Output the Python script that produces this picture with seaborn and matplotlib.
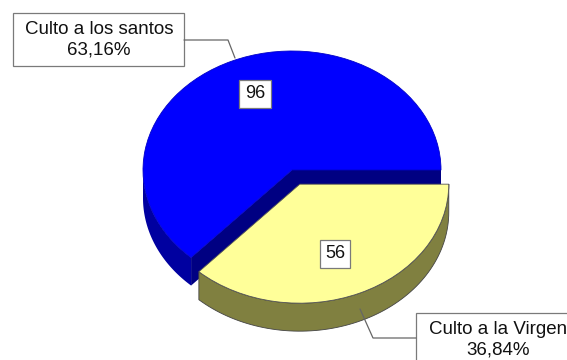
import numpy as np
import matplotlib
matplotlib.use("Agg")
import matplotlib.pyplot as plt
from matplotlib.patches import Polygon, Rectangle
import seaborn as sns

# ---- data ----
categories = ["Culto a los santos", "Culto a la Virgen"]
values = [96, 56]
explode = [0.0, 0.13]
top_colors = ["#0000FF", "#FFFF99"]
wall_colors = ["#0000A0", "#808040"]
cut_colors = ["#000082", "#6E6E36"]

sns.set_style("white")
plt.rcParams["font.family"] = ["Liberation Sans", "DejaVu Sans"]

W, H = 567, 360
fig = plt.figure(figsize=(W / 100, H / 100), dpi=100)
fig.patch.set_facecolor("white")
ax = fig.add_axes([0, 0, 1, 1])

wedges, _ = ax.pie(values, colors=top_colors, startangle=0, counterclock=True,
                   explode=explode, radius=1,
                   wedgeprops=dict(linewidth=0.6, edgecolor="none"))
ax.set_aspect("auto")
ax.set_xlim(-292 / 149, 275 / 149)
ax.set_ylim(-190 / 119, 170 / 119)
ax.axis("off")

depth = 28 / 119


def arc(cx, cy, r, a, b, n=80):
    t = np.radians(np.linspace(a, b, n))
    return np.column_stack([cx + r * np.cos(t), cy + r * np.sin(t)])


base_z = 2
for i, w in enumerate(wedges):
    cx, cy = w.center
    r = w.r
    t1, t2 = w.theta1, w.theta2
    z = base_z + 3 * i
    w.set_zorder(z + 2)
    w.set_edgecolor("#555555" if i == 1 else "#0000C8")
    # cut faces (visible when their outward normal faces front)
    for ang, sign in ((t1, -1), (t2, 1)):
        normal = np.radians(ang + sign * 90)
        if np.sin(normal) < -1e-6:
            u = np.array([np.cos(np.radians(ang)), np.sin(np.radians(ang))]) * r
            pts = np.array([[cx, cy], [cx + u[0], cy + u[1]],
                            [cx + u[0], cy + u[1] - depth], [cx, cy - depth]])
            ax.add_patch(Polygon(pts, closed=True, facecolor=cut_colors[i],
                                 edgecolor="none", zorder=z))
    # outer wall (front half)
    a = max(t1, 180)
    b = min(t2, 360)
    if b > a:
        top = arc(cx, cy, r, a, b)
        bot = top[::-1].copy()
        bot[:, 1] -= depth
        ax.add_patch(Polygon(np.vstack([top, bot]), closed=True,
                             facecolor=wall_colors[i],
                             edgecolor="#444444" if i == 1 else "none",
                             linewidth=0.6, zorder=z + 1))

# ---- annotation overlay in pixel coordinates ----
ov = fig.add_axes([0, 0, 1, 1], zorder=10)
ov.set_xlim(0, W)
ov.set_ylim(H, 0)
ov.axis("off")
ov.patch.set_alpha(0)

total = sum(values)
pcts = [f"{v / total * 100:.2f}".replace(".", ",") + "%" for v in values]

gray = "#7a7a7a"
fs = 13.5

# category boxes
ov.add_patch(Rectangle((13, 13), 171, 53, facecolor="white", edgecolor=gray, lw=0.9))
ov.text(99, 40, f"{categories[0]}\n{pcts[0]}", ha="center", va="center",
        fontsize=fs, linespacing=1.25, color="#111111")
ov.plot([184, 228, 235], [40, 40, 58], color="#666666", lw=0.9)

ov.add_patch(Rectangle((416, 313), 161, 53, facecolor="white", edgecolor=gray, lw=0.9))
ov.text(498, 340, f"{categories[1]}\n{pcts[1]}", ha="center", va="center",
        fontsize=fs, linespacing=1.25, color="#111111")
ov.plot([360, 373, 416], [309, 338, 338], color="#666666", lw=0.9)

# value labels
for (x, y), v in zip([(255, 94), (335, 254)], values):
    ov.text(x, y, str(v), ha="center", va="center", fontsize=13, color="#111111",
            bbox=dict(boxstyle="square,pad=0.3", facecolor="white", edgecolor=gray, lw=0.9))

fig.savefig("out.png", dpi=100, facecolor="white")
